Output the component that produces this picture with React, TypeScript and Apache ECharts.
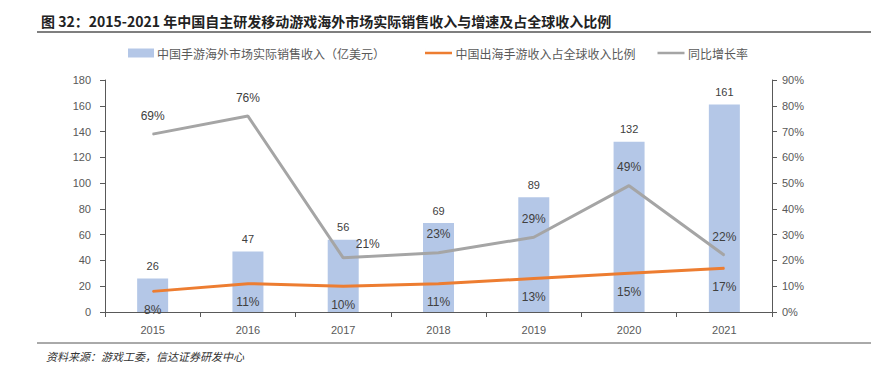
import React, { useEffect, useRef } from "react";
import * as echarts from "echarts";

const years = ["2015", "2016", "2017", "2018", "2019", "2020", "2021"];
const revenue = [26, 47, 56, 69, 89, 132, 161];
const globalShare = [8, 11, 10, 11, 13, 15, 17];
const growth = [69, 76, 21, 23, 29, 49, 22];
const leftTicks = [0, 180, 20];
const rightTicks = [0, 90, 10];

const FONT = "'Liberation Sans', 'Noto Sans CJK SC', sans-serif";
const CJK = "'Noto Sans CJK SC', sans-serif";

const NAME_BAR = "中国手游海外市场实际销售收入（亿美元）";
const NAME_SHARE = "中国出海手游收入占全球收入比例";
const NAME_GROWTH = "同比增长率";

export default function App() {
  const ref = useRef<HTMLDivElement>(null);
  useEffect(() => {
    if (!ref.current) return;
    const chart = echarts.init(ref.current, undefined, { renderer: "svg" });
    const lineLabel = {
      show: true,
      formatter: "{c}%",
      color: "#404040",
      fontFamily: FONT,
      fontSize: 12,
    };
    chart.setOption({
      animation: false,
      backgroundColor: "#ffffff",
      title: {
        text: "图 32：2015-2021 年中国自主研发移动游戏海外市场实际销售收入与增速及占全球收入比例",
        left: 36,
        top: 9,
        textStyle: { fontFamily: CJK, fontSize: 14, fontWeight: "bold", color: "#222" },
      },
      graphic: [
        { type: "line", shape: { x1: 37, y1: 32, x2: 871, y2: 32 }, style: { stroke: "#555", lineWidth: 1.5 } },
        { type: "line", shape: { x1: 37, y1: 343, x2: 871, y2: 343 }, style: { stroke: "#555", lineWidth: 1 } },
        {
          type: "text",
          left: 46,
          top: 350,
          style: { text: "资料来源：游戏工委，信达证券研发中心", font: "italic 11px 'Noto Sans CJK SC', sans-serif", fill: "#333" },
        },
      ],
      legend: [
        {
          top: 42,
          left: 123,
          itemWidth: 26,
          itemHeight: 9,
          itemGap: 4,
          textStyle: { fontFamily: CJK, fontSize: 12, color: "#595959", padding: [0, 0, 0, -2] },
          data: [{ name: NAME_BAR, icon: "rect" }],
        },
        {
          top: 42,
          left: 420,
          itemWidth: 30,
          itemHeight: 9,
          itemGap: 22,
          textStyle: { fontFamily: CJK, fontSize: 12, color: "#595959", padding: [0, 0, 0, -3] },
          data: [
            { name: NAME_SHARE, icon: "path://M0,3.5L30,3.5L30,6.5L0,6.5Z M0,0L0.01,0L0.01,10L0,10Z" },
            { name: NAME_GROWTH, icon: "path://M0,3.5L30,3.5L30,6.5L0,6.5Z M0,0L0.01,0L0.01,10L0,10Z" },
          ],
        },
      ],
      grid: { left: 105, right: 99, top: 80, bottom: 56 },
      xAxis: {
        type: "category",
        data: years,
        axisLine: { lineStyle: { color: "#595959" } },
        axisTick: { show: true, length: 5, lineStyle: { color: "#595959" } },
        axisLabel: { color: "#595959", fontFamily: FONT, fontSize: 11, margin: 12 },
      },
      yAxis: [
        {
          type: "value",
          min: leftTicks[0],
          max: leftTicks[1],
          interval: leftTicks[2],
          axisLine: { show: true, lineStyle: { color: "#595959" } },
          axisTick: { show: true, length: 5, lineStyle: { color: "#595959" } },
          axisLabel: { color: "#595959", fontFamily: FONT, fontSize: 11, margin: 14 },
          splitLine: { show: false },
        },
        {
          type: "value",
          min: rightTicks[0],
          max: rightTicks[1],
          interval: rightTicks[2],
          position: "right",
          axisLine: { show: true, lineStyle: { color: "#595959" } },
          axisTick: { show: true, length: 5, lineStyle: { color: "#595959" } },
          axisLabel: { color: "#595959", fontFamily: FONT, fontSize: 11, margin: 10, formatter: "{value}%" },
          splitLine: { show: false },
        },
      ],
      series: [
        {
          name: NAME_BAR,
          type: "bar",
          data: revenue,
          barWidth: 31,
          itemStyle: { color: "#b4c7e7" },
          label: { show: true, position: "top", distance: 7, color: "#404040", fontFamily: FONT, fontSize: 11 },
          z: 1,
        },
        {
          name: NAME_SHARE,
          type: "line",
          yAxisIndex: 1,
          data: globalShare,
          symbol: "circle",
          symbolSize: 1,
          showSymbol: true,
          lineStyle: { color: "#ed7d31", width: 3 },
          itemStyle: { color: "#ed7d31" },
          label: { ...lineLabel, position: "bottom", distance: 12 },
          z: 3,
        },
        {
          name: NAME_GROWTH,
          type: "line",
          yAxisIndex: 1,
          data: growth.map((v, i) =>
            i === 2
              ? { value: v, label: { position: "right", offset: [0, -14], distance: 12 } }
              : v
          ),
          symbol: "circle",
          symbolSize: 1,
          showSymbol: true,
          lineStyle: { color: "#a5a5a5", width: 3 },
          itemStyle: { color: "#a5a5a5" },
          label: { ...lineLabel, position: "top", distance: 12 },
          z: 2,
        },
      ],
    });
    return () => chart.dispose();
  }, []);
  return <div ref={ref} style={{ width: 871, height: 368, position: "absolute", left: 0, top: 0 }} />;
}
